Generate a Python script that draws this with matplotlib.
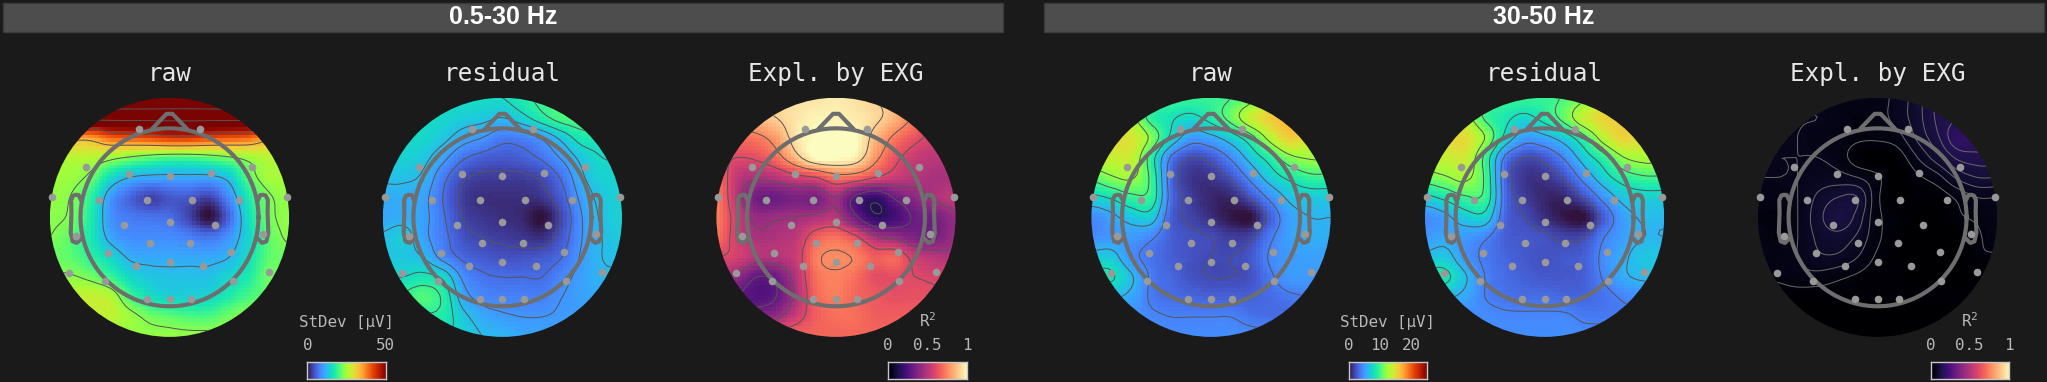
import numpy as np
import matplotlib
matplotlib.use('Agg')
import matplotlib.pyplot as plt
from matplotlib.patches import Circle, Rectangle

plt.rcParams['mathtext.default'] = 'regular'
plt.rcParams['mathtext.fontset'] = 'dejavusans'

BG = '#1a1a1a'
W, H = 2047, 382
RADIUS = 119.6
HEAD_R = 0.744

#sensor positions, unit = map radius
sensor_x = [-0.257, 0.257, -0.70, -0.34, 0, 0.348, 0.693, -0.983, -0.587, -0.189, 0.189, 0.584, 0.983, -0.377, 0, 0.381,
            -0.783, 0.783, -0.167, 0.174, -0.515, 0.518, -0.276, 0, 0.283, -0.838, 0.834, -0.537, 0.529, -0.189, 0, 0.178]
sensor_y = [0.739, 0.739, 0.418, 0.362, 0.343, 0.368, 0.424, 0.173, 0.145, 0.142, 0.145, 0.145, 0.167, -0.067, -0.042, -0.064,
            -0.153, -0.139, -0.217, -0.217, -0.295, -0.29, -0.407, -0.371, -0.404, -0.463, -0.457, -0.535, -0.535, -0.686, -0.686, -0.686]

#head outline, unit = map radius
nose_x = [-0.14, -0.025, 0.025, 0.14]
nose_y = [0.745, 0.865, 0.865, 0.745]
ear_x = [0.74, 0.76, 0.785, 0.805, 0.822, 0.82, 0.826, 0.81, 0.775, 0.74]
ear_y = [0.146, 0.186, 0.188, 0.181, 0.146, 0.033, -0.130, -0.201, -0.214, -0.180]

#values as a fraction of the colour range, rows from front to back
raw_low = [
    [1.5, 1.5, 1.5, 1.5, 1.5, 1.5, 1.5, 1.5, 1.5, 1.5, 1.5, 1.5, 1.5],
    [1.15, 1.15, 1.15, 1.15, 1.15, 1.15, 1.15, 1.15, 1.15, 1.15, 1.15, 1.15, 1.15],
    [.7, .7, .7, .78, .8, .82, .85, .85, .82, .8, .78, .7, .7],
    [.53, .53, .53, .49, .45, .42, .4, .4, .42, .45, .49, .53, .53],
    [.49, .49, .44, .31, .24, .22, .22, .22, .22, .27, .42, .5, .5],
    [.48, .46, .37, .2, .12, .07, .1, .1, .07, .18, .35, .45, .48],
    [.47, .45, .35, .19, .15, .14, .13, .07, 0, .12, .32, .44, .48],
    [.46, .42, .34, .22, .18, .18, .18, .16, .14, .19, .3, .42, .47],
    [.44, .42, .37, .3, .23, .22, .22, .22, .22, .24, .32, .42, .44],
    [.47, .47, .44, .38, .3, .27, .26, .26, .26, .3, .35, .44, .44],
    [.54, .54, .55, .52, .39, .32, .29, .29, .3, .35, .4, .43, .43],
    [.54, .54, .54, .54, .49, .44, .42, .4, .4, .44, .47, .47, .47],
    [.48, .48, .48, .48, .48, .48, .48, .48, .48, .48, .48, .48, .48],
]
res_low = [
    [.31, .31, .31, .31, .31, .31, .31, .35, .39, .41, .41, .41, .41],
    [.31, .31, .31, .3, .28, .27, .25, .29, .35, .4, .41, .41, .41],
    [.31, .31, .3, .27, .22, .19, .15, .16, .2, .27, .34, .34, .34],
    [.29, .29, .27, .21, .14, .11, .1, .11, .14, .2, .27, .31, .31],
    [.26, .26, .24, .15, .08, .06, .06, .06, .08, .14, .24, .29, .29],
    [.23, .23, .21, .13, .06, .04, .04, .04, .05, .11, .21, .27, .29],
    [.22, .23, .21, .14, .07, .05, .04, .03, 0, .08, .19, .26, .29],
    [.26, .28, .21, .15, .09, .07, .06, .05, .04, .1, .19, .25, .28],
    [.27, .27, .25, .17, .12, .1, .09, .09, .1, .13, .2, .25, .26],
    [.31, .31, .33, .3, .18, .14, .13, .13, .13, .17, .21, .24, .24],
    [.36, .38, .41, .36, .22, .17, .16, .16, .16, .19, .21, .23, .23],
    [.36, .36, .36, .35, .27, .22, .2, .19, .19, .2, .21, .21, .21],
    [.32, .32, .32, .32, .29, .25, .24, .22, .22, .22, .22, .22, .22],
]
expl_low = [
    [.9, .9, .9, .92, .94, .95, .96, .94, .9, .85, .75, .7, .7],
    [.82, .82, .86, .9, .95, .98, .98, .96, .92, .84, .72, .62, .6],
    [.7, .7, .72, .8, .95, 1, 1, 1, .85, .72, .63, .56, .54],
    [.65, .6, .62, .7, .86, 1, 1, .96, .78, .63, .54, .51, .51],
    [.7, .52, .47, .5, .56, .6, .7, .68, .6, .54, .5, .47, .47],
    [.72, .5, .33, .32, .36, .35, .45, .27, .19, .32, .4, .47, .52],
    [.72, .55, .42, .44, .45, .48, .5, .32, .17, .22, .32, .34, .42],
    [.7, .55, .47, .48, .52, .66, .7, .62, .47, .42, .36, .35, .42],
    [.6, .57, .5, .5, .55, .73, .76, .74, .66, .68, .55, .5, .48],
    [.5, .42, .3, .33, .5, .7, .74, .7, .62, .62, .6, .58, .56],
    [.33, .3, .26, .3, .48, .68, .73, .68, .65, .62, .63, .62, .6],
    [.38, .38, .38, .42, .55, .66, .7, .7, .66, .66, .66, .64, .62],
    [.68, .68, .68, .68, .68, .68, .68, .68, .68, .68, .68, .68, .68],
]
raw_high = [
    [.42, .42, .42, .4, .38, .38, .38, .4, .45, .55, .6, .6, .6],
    [.55, .55, .5, .37, .33, .3, .35, .43, .55, .63, .66, .66, .66],
    [.6, .6, .58, .46, .3, .2, .22, .28, .37, .52, .63, .58, .58],
    [.55, .55, .55, .36, .15, .08, .1, .17, .27, .36, .46, .49, .49],
    [.42, .47, .49, .38, .12, .05, .05, .09, .18, .28, .34, .38, .38],
    [.3, .33, .38, .37, .13, .06, .03, .03, .09, .18, .26, .28, .28],
    [.18, .22, .27, .28, .11, .07, .04, .01, 0, .11, .21, .24, .24],
    [.18, .2, .2, .17, .11, .09, .08, .06, .07, .15, .21, .23, .23],
    [.27, .27, .18, .14, .11, .09, .08, .08, .1, .17, .2, .21, .21],
    [.33, .33, .25, .15, .12, .09, .08, .08, .09, .15, .2, .2, .2],
    [.25, .25, .22, .15, .13, .12, .11, .11, .11, .13, .15, .16, .16],
    [.18, .18, .18, .17, .16, .16, .16, .16, .14, .13, .13, .13, .13],
    [.18, .18, .18, .18, .18, .18, .18, .18, .18, .18, .18, .18, .18],
]
res_high = [
    [.44, .44, .44, .41, .38, .38, .38, .41, .47, .55, .58, .58, .58],
    [.58, .58, .52, .39, .34, .3, .35, .43, .55, .62, .62, .62, .62],
    [.6, .6, .6, .48, .3, .2, .22, .28, .38, .53, .62, .58, .58],
    [.55, .55, .56, .38, .15, .08, .1, .17, .28, .37, .48, .51, .51],
    [.44, .47, .5, .39, .12, .05, .05, .09, .19, .29, .36, .39, .39],
    [.3, .34, .39, .38, .13, .06, .03, .03, .09, .19, .27, .29, .29],
    [.18, .22, .28, .29, .12, .08, .04, .01, 0, .11, .21, .25, .25],
    [.2, .22, .2, .17, .11, .1, .09, .07, .08, .16, .21, .24, .24],
    [.26, .27, .19, .15, .12, .1, .09, .1, .11, .18, .23, .27, .27],
    [.34, .34, .25, .16, .13, .11, .1, .1, .11, .17, .23, .25, .25],
    [.25, .25, .22, .16, .14, .13, .13, .12, .12, .14, .17, .19, .19],
    [.18, .18, .18, .18, .17, .17, .17, .17, .15, .15, .15, .15, .15],
    [.18, .18, .18, .18, .18, .18, .18, .18, .18, .18, .18, .18, .18],
]
expl_high = [
    [.04, .04, .04, .04, .04, .04, .04, .06, .09, .13, .15, .15, .15],
    [.05, .05, .05, .05, .04, .03, .04, .06, .09, .13, .15, .16, .16],
    [.05, .05, .05, .04, .04, .03, .03, .04, .08, .12, .17, .17, .17],
    [.05, .05, .05, .05, .04, .01, 0, .01, .05, .09, .13, .14, .14],
    [.05, .05, .05, .06, .06, .05, .03, 0, .02, .04, .08, .1, .1],
    [.04, .04, .05, .08, .1, .1, .03, 0, .01, .01, .03, .05, .05],
    [.03, .03, .05, .09, .12, .09, .03, .02, 0, 0, .02, .03, .04],
    [.04, .03, .05, .08, .09, .07, .03, .01, 0, 0, 0, .02, .04],
    [.04, .04, .05, .07, .07, .05, .02, .01, 0, 0, 0, .02, .02],
    [.03, .03, .04, .04, .03, .02, .01, .01, 0, 0, 0, 0, 0],
    [.01, .01, .01, .01, .01, .01, .01, .01, .01, .01, .01, .01, .01],
    [0, 0, 0, 0, 0, 0, 0, 0, 0, 0, 0, 0, 0],
    [0, 0, 0, 0, 0, 0, 0, 0, 0, 0, 0, 0, 0],
]

map_titles = ['raw', 'residual', 'Expl. by EXG', 'raw', 'residual', 'Expl. by EXG']
map_values = [raw_low, res_low, expl_low, raw_high, res_high, expl_high]
map_cmaps = ['turbo', 'turbo', 'magma', 'turbo', 'turbo', 'magma']
map_centers = [169.5, 502.4, 836, 1211, 1544.6, 1877.6]
map_levels = [[.24, .46, .66, .88, 1.1, 1.32],
              [.07, .13, .19, .25, .31, .37],
              [.15, .3, .45, .6, .75, .9],
              [.08, .16, .24, .32, .4, .48],
              [.08, .16, .24, .32, .4, .48],
              [.025, .05, .075, .1, .125, .15]]
line_colors = ['#555555', '#555555', '#555555', '#555555', '#555555', '#6a6a6a']

band_labels = ['0.5-30 Hz', '30-50 Hz']
band_spans = [(2.6, 1003), (1044, 2044)]

cbar_labels = ['StDev [µV]', 'R$^2$', 'StDev [µV]', 'R$^2$']
cbar_cmaps = ['turbo', 'magma', 'turbo', 'magma']
cbar_spans = [(307.3, 385.7), (888, 966.7), (1349, 1426.6), (1930.5, 2008.6)]
cbar_max = [50, 1, 25, 1]
cbar_ticks = [[0, 50], [0, 0.5, 1], [0, 10, 20], [0, 0.5, 1]]
cbar_ticklabels = [['0', '50'], ['0', '0.5', '1'], ['0', '10', '20'], ['0', '0.5', '1']]


def upsample(vals, n=64):
    #catmull-rom along both axes, same as a small bicubic resize
    vals = np.asarray(vals, dtype=float)
    def along(a, axis):
        a = np.moveaxis(a, axis, 0)
        m = a.shape[0]
        t = np.linspace(0, m - 1, n)
        i = np.clip(t.astype(int), 0, m - 2)
        f = (t - i).reshape((-1,) + (1,) * (a.ndim - 1))
        p0, p1, p2, p3 = a[np.clip(i - 1, 0, m - 1)], a[i], a[i + 1], a[np.clip(i + 2, 0, m - 1)]
        out = 0.5 * (2 * p1 + (p2 - p0) * f + (2 * p0 - 5 * p1 + 4 * p2 - p3) * f ** 2 + (3 * p1 - p0 - 3 * p2 + p3) * f ** 3)
        return np.moveaxis(out, 0, axis)
    return along(along(vals, 0), 1)


fig = plt.figure(figsize=(W / 100, H / 100), dpi=100, facecolor=BG)
bg = fig.add_axes([0, 0, 1, 1])
bg.set_xlim(0, W)
bg.set_ylim(H, 0)
bg.axis('off')

#band headers
for label, span in zip(band_labels, band_spans):
    bg.add_patch(Rectangle((span[0], 2.7), span[1] - span[0], 29, facecolor='#4d4d4d', edgecolor='#3a3a3a', lw=1))
    bg.text(sum(span) / 2, 16.5, label, color='white', fontsize=18, fontweight='bold', family='Liberation Sans',
            ha='center', va='center')

#topomaps
for title, vals, cmap, cx, levels, lc in zip(map_titles, map_values, map_cmaps, map_centers, map_levels, line_colors):
    cy = 217.3
    ax = fig.add_axes([(cx - RADIUS) / W, 1 - (cy + RADIUS) / H, 2 * RADIUS / W, 2 * RADIUS / H])
    ax.set_xlim(-1, 1)
    ax.set_ylim(-1, 1)
    ax.axis('off')

    grid = upsample(vals)[::-1]
    xg = np.linspace(-1, 1, 64)
    clip = Circle((0, 0), 1, transform=ax.transData)
    im = ax.imshow(grid, origin='lower', extent=(-1, 1, -1, 1), cmap=cmap, vmin=0, vmax=1, interpolation='nearest', aspect='auto')
    im.set_clip_path(clip)
    cs = ax.contour(xg, xg, grid, levels=levels, colors=lc, linewidths=0.7)
    cs.set_clip_path(clip)

    th = np.linspace(0, 2 * np.pi, 200)
    ax.plot(HEAD_R * np.cos(th), HEAD_R * np.sin(th), color='#6e6e6e', lw=3, clip_on=False)
    ax.plot(nose_x, nose_y, color='#6e6e6e', lw=3, solid_joinstyle='round', clip_on=False)
    ax.plot(ear_x, ear_y, color='#6e6e6e', lw=3, clip_on=False)
    ax.plot(-np.array(ear_x), ear_y, color='#6e6e6e', lw=3, clip_on=False)
    ax.scatter(sensor_x, sensor_y, s=30, color='#999999', linewidths=0, zorder=5, clip_on=False)

    bg.text(cx, 80.7, title, color='#e6e6e6', fontsize=17.5, family='DejaVu Sans Mono', ha='center', va='baseline')

#colour bars
for label, cmap, span, vmax, ticks, tick_labels in zip(cbar_labels, cbar_cmaps, cbar_spans, cbar_max, cbar_ticks, cbar_ticklabels):
    cax = fig.add_axes([span[0] / W, 1 - 379.3 / H, (span[1] - span[0]) / W, 17.3 / H])
    cax.imshow(np.linspace(0, 1, 256)[None, :], extent=(0, vmax, 0, 1), cmap=cmap, aspect='auto')
    cax.set_xlim(0, vmax)
    cax.set_yticks([])
    cax.set_xticks(ticks)
    cax.set_xticklabels(tick_labels, color='#b8b8b8', fontsize=11.4, family='DejaVu Sans Mono')
    cax.xaxis.tick_top()
    cax.tick_params(axis='x', length=0, pad=6.5)
    for s in cax.spines.values():
        s.set_color('#c8c8c8')
        s.set_linewidth(1)
    bg.text(sum(span) / 2, 327, label, color='#b8b8b8', fontsize=11.4, family='DejaVu Sans Mono', ha='center', va='baseline')

fig.savefig('out.png', dpi=100, facecolor=BG)
